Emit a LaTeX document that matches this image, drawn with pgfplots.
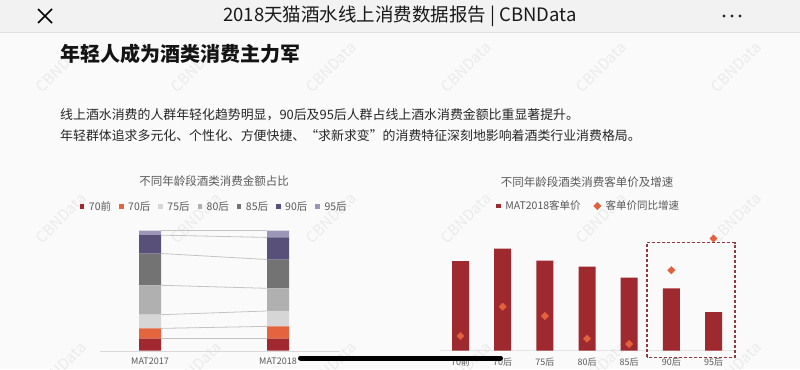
\documentclass[border=0pt]{standalone}
\usepackage{fontspec}
\usepackage{pgfplots}
\pgfplotsset{compat=1.18}
\setmainfont{Noto Sans CJK SC}
\newcommand\fs[1]{\fontsize{#1bp}{#1bp}\selectfont}
\definecolor{c70q}{HTML}{A0282E}
\definecolor{c70h}{HTML}{E3643F}
\definecolor{c75}{HTML}{D6D6D6}
\definecolor{c80}{HTML}{B0B0B0}
\definecolor{c85}{HTML}{737373}
\definecolor{c90}{HTML}{585078}
\definecolor{c95}{HTML}{9C96B9}
\definecolor{barred}{HTML}{9E2A2F}
\definecolor{diam}{HTML}{E2623F}
\definecolor{txtgray}{HTML}{595959}
\definecolor{axisgray}{HTML}{D9D9D9}
\definecolor{conn}{HTML}{C4C4C4}
\definecolor{bodybg}{HTML}{FAFAFA}
\definecolor{headbg}{HTML}{F2F2F2}
\definecolor{headline}{HTML}{E0E0E0}
\definecolor{wm}{HTML}{EBEBEB}
\definecolor{boxcol}{HTML}{8E3A3E}
\definecolor{paratext}{HTML}{262626}
\pgfplotsset{
  sqleg/.style={legend image code/.code={\fill[##1] (0bp,-2.3bp) rectangle (4.6bp,2.3bp);}},
  diamleg/.style={legend image code/.code={\draw[##1] plot coordinates {(2.5bp,0bp)};}},
}
\begin{document}
\begin{tikzpicture}[x=1bp,y=1bp]
\fill[bodybg] (0,0) rectangle (800,369);
\useasboundingbox (0,0) rectangle (800,369);
% watermarks
\foreach \wx in {61,196,331,466,601,736}{
  \foreach \wy in {302,151,2}{
    \node[rotate=45, text=wm, font=\fs{15}] at (\wx,\wy) {CBNData};
  }
}
% header
\fill[headbg] (0,337) rectangle (800,369);
\draw[headline, line width=0.6bp] (0,337) -- (800,337);
\draw[black, line width=1.5bp] (38,360) -- (52,346) (38,346) -- (52,360);
\node[font=\fs{18.5}, text=black!90] at (400,353) {2018天猫酒水线上消费数据报告 | CBNData};
\fill[black!85] (724,353) circle (1.7) (732,353) circle (1.7) (740,353) circle (1.7);
% section title and paragraph
\node[anchor=west, inner sep=0, font=\fs{20}\bfseries, text=black!92] at (60,315) {年轻人成为酒类消费主力军};
\node[anchor=west, inner sep=0, font=\fs{12.9}, text=paratext] at (60,254.5) {线上酒水消费的人群年轻化趋势明显，90后及95后人群占线上酒水消费金额比重显著提升。};
\node[anchor=west, inner sep=0, font=\fs{12.9}, text=paratext] at (60,233) {年轻群体追求多元化、个性化、方便快捷、“求新求变”的消费特征深刻地影响着酒类行业消费格局。};
% chart titles
\node[font=\fs{11.5}, text=txtgray] at (214,188) {不同年龄段酒类消费金额占比};
\node[font=\fs{11.5}, text=txtgray] at (587,187) {不同年龄段酒类消费客单价及增速};

% left: stacked share
\begin{axis}[at={(100bp,18.3bp)}, anchor=south west, scale only axis,
  width=240bp, height=120bp,
  xmin=-0.390625, xmax=1.484375, ymin=0, ymax=100,
  ybar stacked, bar width=22bp,
  axis x line*=bottom, axis y line=none,
  x axis line style={draw=axisgray, -},
  xtick={0,1}, xticklabels={MAT2017,MAT2018},
  major tick length=0, ytick=\empty,
  xticklabel style={font=\fs{9}, text=txtgray, yshift=-4bp},
  legend style={at={(0.474,1.2)}, anchor=center, draw=none, fill=none,
    font=\fs{10.5}, text=txtgray, legend columns=-1,
    /tikz/every odd column/.append style={column sep=3.5bp},
    /tikz/every even column/.append style={column sep=7bp},
    nodes={inner sep=1bp}},
]
\addplot[fill=c70q, draw=none, sqleg] coordinates {(0,10.0) (1,10.0)};
\addplot[fill=c70h, draw=none, sqleg] coordinates {(0,8.6) (1,10.3)};
\addplot[fill=c75, draw=none, sqleg] coordinates {(0,11.4) (1,12.8)};
\addplot[fill=c80, draw=none, sqleg] coordinates {(0,24.5) (1,18.9)};
\addplot[fill=c85, draw=none, sqleg] coordinates {(0,26.5) (1,24.0)};
\addplot[fill=c90, draw=none, sqleg] coordinates {(0,15.3) (1,18.4)};
\addplot[fill=c95, draw=none, sqleg] coordinates {(0,3.7) (1,5.6)};
\legend{70前,70后,75后,80后,85后,90后,95后}
\end{axis}
% left: series connector lines
\begin{axis}[at={(100bp,18.3bp)}, anchor=south west, scale only axis,
  width=240bp, height=120bp,
  xmin=-0.390625, xmax=1.484375, ymin=0, ymax=100,
  hide axis, clip=false]
\addplot[conn, line width=1bp, no marks] coordinates {(0.0859,10.0) (0.9141,10.0)};
\addplot[conn, line width=0.8bp, no marks] coordinates {(0.0859,18.6) (0.9141,20.3)};
\addplot[conn, line width=0.8bp, no marks] coordinates {(0.0859,30.0) (0.9141,33.1)};
\addplot[conn, line width=0.8bp, no marks] coordinates {(0.0859,54.5) (0.9141,52.0)};
\addplot[conn, line width=0.8bp, no marks] coordinates {(0.0859,81.0) (0.9141,76.0)};
\addplot[conn, line width=0.8bp, no marks] coordinates {(0.0859,96.3) (0.9141,94.4)};
\addplot[conn, line width=1bp, no marks] coordinates {(0.0859,100) (0.9141,100)};
\end{axis}

% right: per-customer price and growth
\begin{axis}[at={(440bp,18.5bp)}, anchor=south west, scale only axis,
  width=295bp, height=120bp,
  xmin=-0.486, xmax=6.51, ymin=0, ymax=120,
  axis x line*=bottom, axis y line=none,
  x axis line style={draw=axisgray!70, -},
  xtick={0,...,6}, xticklabels={70前,70后,75后,80后,85后,90后,95后},
  major tick length=0, ytick=\empty, clip=false,
  xticklabel style={font=\fs{9}, text=txtgray, yshift=-4bp},
  legend style={at={(0.502,1.204)}, anchor=center, draw=none, fill=none,
    font=\fs{10.5}, text=txtgray, legend columns=-1,
    /tikz/every odd column/.append style={column sep=3.5bp},
    /tikz/every even column/.append style={column sep=12bp},
    nodes={inner sep=1bp}},
]
\addplot[ybar, bar width=17bp, fill=barred, draw=none, sqleg] coordinates
  {(0,89.5) (1,101.8) (2,90.0) (3,83.8) (4,72.8) (5,62.2) (6,38.3)};
\addplot[color=diam, only marks, mark=square*, mark size=2.6bp, mark options={rotate=45, fill=diam, draw=none}, diamleg] coordinates
  {(0,14.5) (1,43.8) (2,34.5) (3,11.8) (4,6.5) (5,80.3) (6,112.0)};
\legend{MAT2018客单价,客单价同比增速}
\end{axis}
\draw[boxcol, line width=1.1bp, dash pattern=on 3bp off 2bp] (647,11.7) rectangle (735,126.3);
% home indicator
\draw[black, line width=5bp, line cap=round] (300.5,11) -- (500.5,11);
\end{tikzpicture}
\end{document}
